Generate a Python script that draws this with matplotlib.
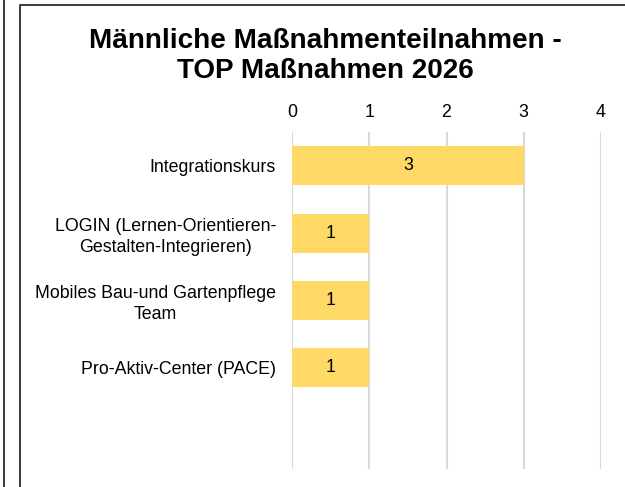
import matplotlib
matplotlib.use("Agg")
import matplotlib.pyplot as plt
from matplotlib.lines import Line2D

# data
massnahmen = [
    "Integrationskurs",
    "LOGIN (Lernen-Orientieren-\nGestalten-Integrieren)",
    "Mobiles Bau-und Gartenpflege\nTeam",
    "Pro-Aktiv-Center (PACE)",
]
teilnahmen = [3, 1, 1, 1]
x_ticks = [0, 1, 2, 3, 4]
title = "Männliche Maßnahmenteilnahmen -\nTOP Maßnahmen 2026"

plt.rcParams['font.family'] = ['Liberation Sans', 'DejaVu Sans']

W, H = 625, 487
fig = plt.figure(figsize=(W / 100, H / 100), dpi=100)

# axes placed in pixel terms of the reference
ax_l, ax_r, ax_t, ax_b = 292, 601, 132, 469
ax = fig.add_axes([ax_l / W, 1 - ax_b / H, (ax_r - ax_l) / W, (ax_b - ax_t) / H])

pos = list(range(len(massnahmen)))
bars = ax.barh(pos, teilnahmen, height=0.58, color="#FFD966", zorder=2)
for b, v in zip(bars, teilnahmen):
    ax.text(b.get_x() + b.get_width() / 2, b.get_y() + b.get_height() / 2, str(v),
            ha="center", va="center", fontsize=12.8, color="#000000", zorder=3)

ax.set_xlim(x_ticks[0], x_ticks[-1])
ax.set_ylim(len(massnahmen) + 0.5, -0.5)  # one empty slot at the bottom
ax.set_xticks(x_ticks)
ax.set_yticks(pos)
ax.set_yticklabels(massnahmen, ma="center", linespacing=1.3)
ax.xaxis.tick_top()
ax.tick_params(axis="x", length=0, pad=8, labelsize=12.8)
ax.tick_params(axis="y", length=0, pad=11.5, labelsize=12.8)
ax.grid(axis="x", color="#D9D9D9", linewidth=1.5, zorder=0)
ax.set_axisbelow(True)
for s in ax.spines.values():
    s.set_visible(False)

fig.text(325 / W, 1 - 56 / H, title, ha="center", va="center",
         fontsize=20.1, fontweight="bold", linespacing=1.22)

# frame of this chart and the edge of the neighbouring one
fig.add_artist(Line2D([19.5 / W, 19.5 / W, 1], [0, 1 - 5 / H, 1 - 5 / H],
                      color="#3a3a3a", linewidth=1.4))
fig.add_artist(Line2D([4 / W, 4 / W], [0, 1], color="#3a3a3a", linewidth=1.4))

fig.savefig("out.png", dpi=100)
